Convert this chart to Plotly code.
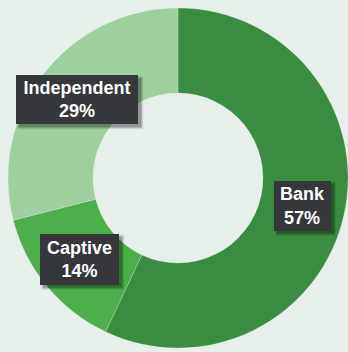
import math
import plotly.graph_objects as go

# Market share by lender type
categories = ["Bank", "Captive", "Independent"]
shares = [57, 14, 29]
colors = ["#3a8d40", "#4caf4c", "#9fce9f"]

W, H = 348, 352
BG = "#e6efea"

# pie geometry in pixels (center and outer radius), hole fraction
cx, cy, r_out = 178, 178, 170
hole = 0.5
r_mid = r_out * (1 + hole) / 2

fig = go.Figure(
    go.Pie(
        labels=categories,
        values=shares,
        sort=False,
        direction="clockwise",
        rotation=0,
        hole=hole,
        marker=dict(colors=colors, line=dict(color="rgba(255,255,255,0.25)", width=0.8)),
        textinfo="none",
        hoverinfo="label+percent",
        domain=dict(
            x=[(cx - r_out) / W, (cx + r_out) / W],
            y=[1 - (cy + r_out) / H, 1 - (cy - r_out) / H],
        ),
        showlegend=False,
    )
)

# outer size of each label box in px (width, height)
box_sizes = {"Bank": (57, 50), "Captive": (79, 51), "Independent": (122, 49)}
PAD, BORDER = 3, 1

total = sum(shares)
cum = 0
annotations = []
shapes = []
for cat, val in zip(categories, shares):
    mid = (cum + val / 2) / total * 2 * math.pi
    cum += val
    px = cx + r_mid * math.sin(mid)
    py = cy - r_mid * math.cos(mid)
    bw, bh = box_sizes[cat]
    # soft drop shadow behind the box
    for off, grow, alpha in ((3, 2, 0.08), (3, 1, 0.14), (3, 0, 0.2)):
        shapes.append(dict(
            type="rect", xref="paper", yref="paper",
            x0=(px - bw / 2 + off - grow) / W, x1=(px + bw / 2 + off + grow) / W,
            y0=1 - (py + bh / 2 + off + grow) / H, y1=1 - (py - bh / 2 + off - grow) / H,
            fillcolor=f"rgba(0,0,0,{alpha})", line=dict(width=0), layer="above",
        ))
    annotations.append(dict(
        x=px / W, y=1 - py / H, xref="paper", yref="paper",
        xanchor="center", yanchor="middle", showarrow=False,
        text=f"<b>{cat}<br>{round(val / total * 100)}%</b>",
        width=bw - 2 * (PAD + BORDER), height=bh - 2 * (PAD + BORDER),
        borderpad=PAD, borderwidth=BORDER, bordercolor="#35373a",
        bgcolor="#35373a",
        font=dict(color="white", size=18, family="Liberation Sans, Arial"),
    ))

fig.update_layout(
    width=W, height=H,
    margin=dict(l=0, r=0, t=0, b=0),
    paper_bgcolor=BG,
    plot_bgcolor=BG,
    annotations=annotations,
    shapes=shapes,
)

fig.write_html("out.html", config={"displayModeBar": False})
